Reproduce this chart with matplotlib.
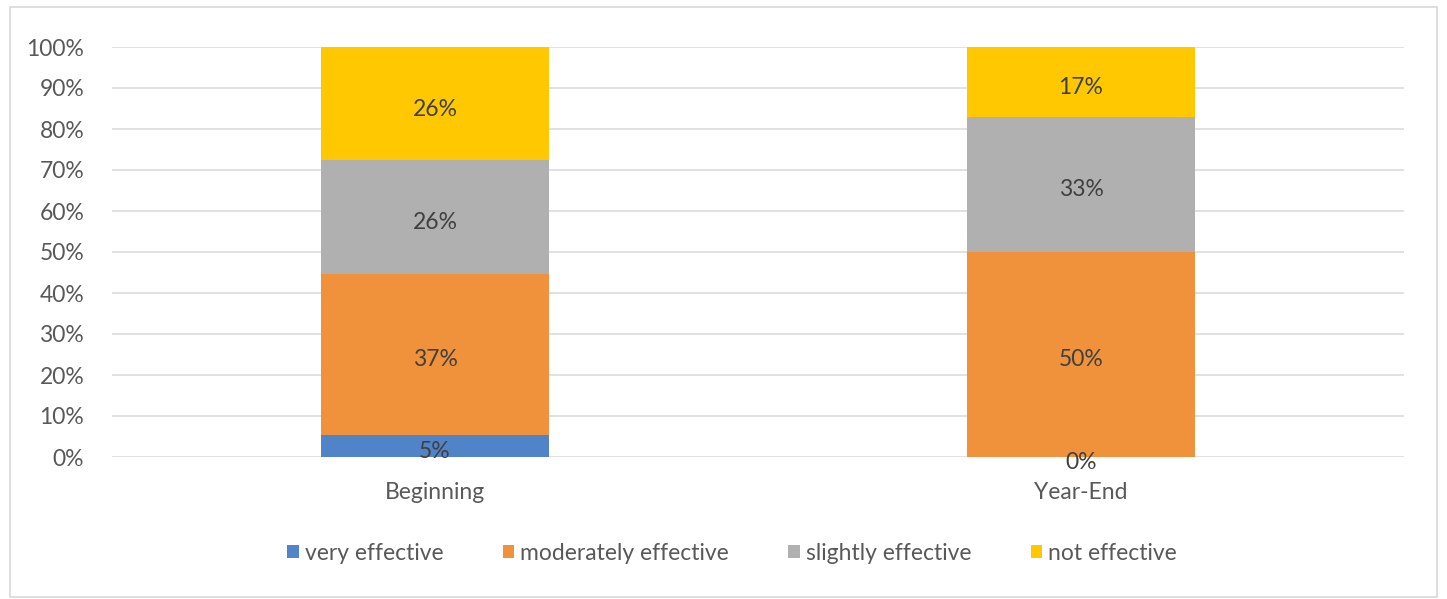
import matplotlib
matplotlib.use("Agg")
import matplotlib.pyplot as plt
from matplotlib.patches import Rectangle, Patch
from matplotlib.transforms import offset_copy
import numpy as np

plt.rcParams['font.family'] = ['Lato', 'DejaVu Sans']

categories = ["Beginning", "Year-End"]
series = ["very effective", "moderately effective", "slightly effective", "not effective"]
very_effective = [5, 0]
moderately_effective = [37, 50]
slightly_effective = [26, 33]
not_effective = [26, 17]
colors = ["#5083C8", "#F0913C", "#B0B0B0", "#FFC800"]
yticks = [0, 10, 20, 30, 40, 50, 60, 70, 80, 90, 100]

values = np.array([very_effective, moderately_effective, slightly_effective, not_effective], dtype=float)
shares = values / values.sum(axis=0) * 100

fig = plt.figure(figsize=(14.47, 5.99), dpi=100)
fig.patch.set_facecolor("white")
fig.patches.append(Rectangle((10 / 1447, 0.003), 1427 / 1447, 1 - 7 / 599 - 0.003,
                             transform=fig.transFigure, fill=False,
                             edgecolor="#D9D9D9", linewidth=1.2))

ax = fig.add_axes([112 / 1447, 1 - 457 / 599, 1292 / 1447, 410 / 599])
label_tf = offset_copy(ax.transData, fig=fig, y=-2.5, units="points")
x = np.arange(len(categories))
width = 0.353
bottom = np.zeros(len(categories))
for name, share, raw, col in zip(series, shares, values, colors):
    ax.bar(x, share, width, bottom=bottom, color=col, label=name, zorder=2)
    for xi, b, s, r in zip(x, bottom, share, raw):
        ax.text(xi, b + s / 2, f"{r:.0f}%", ha="center", va="center_baseline",
                fontsize=16.5, color="#404040", zorder=3, transform=label_tf)
    bottom += share

ax.set_xlim(-0.5, 1.5)
ax.set_ylim(0, 100)
ax.set_yticks(yticks)
ax.set_yticklabels([f"{t}%" for t in yticks])
ax.yaxis.grid(True, color="#D9D9D9", linewidth=1.1, zorder=0)
ax.set_axisbelow(True)
for sp in ax.spines.values():
    sp.set_visible(False)
ax.tick_params(axis="y", length=0, pad=20, labelsize=16.5, labelcolor="#595959")
ax.set_xticks(x)
ax.set_xticklabels(categories)
ax.tick_params(axis="x", length=0, pad=18, labelsize=16.5, labelcolor="#595959")

handles = [Patch(facecolor=c, edgecolor="none") for c in colors]
fig.legend(handles, series, loc="center", bbox_to_anchor=(732 / 1447, 1 - 553 / 599),
           ncol=4, frameon=False, fontsize=16.5, labelcolor="#595959",
           handlelength=0.5, handleheight=0.5, handletextpad=0.25, columnspacing=2.6)

fig.savefig("out.png", dpi=100, facecolor="white")
